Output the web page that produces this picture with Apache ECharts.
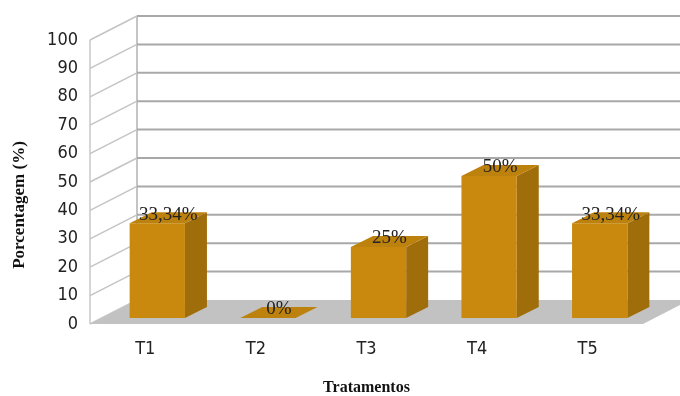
<!DOCTYPE html>
<html>
<head>
<meta charset="utf-8">
<script src="https://cdn.jsdelivr.net/npm/echarts@6/dist/echarts.min.js"></script>
<style>
html, body { margin: 0; padding: 0; background: #fff; }
#grafico { width: 680px; height: 396px; }
</style>
</head>
<body>
<div id="grafico"></div>
<script>
// dados
const tratamentos = ['T1', 'T2', 'T3', 'T4', 'T5']
const porcentagens = [33.34, 0, 25, 50, 33.34]
const rotulos = ['33,34%', '0%', '25%', '50%', '33,34%']
const marcasY = [0, 10, 20, 30, 40, 50, 60, 70, 80, 90, 100]

// efeito 3D (deslocamentos em px)
const parede = { dx: 47, dy: -24 }   // parede do fundo
const frente = { dx: 12, dy: -6 }    // face da frente da barra
const prof = { dx: 22, dy: -11 }     // profundidade da barra

const corFrente = '#c9890e'
const corLado = '#a06d0b'
const corTopo = '#bd810d'
const fonteEstreita = '"DejaVu Sans Condensed", "Liberation Sans Narrow", "Arial Narrow", sans-serif'
const fonteSerif = '"Liberation Serif", "Times New Roman", serif'

const chart = echarts.init(document.getElementById('grafico'))

function desenhaMoldura(params, api) {
  const v = api.value(1)
  const cs = params.coordSys
  const y = api.coord([0, v])[1]
  const xe = cs.x
  const xd = cs.x + cs.width
  const W = parede.dx, H = parede.dy
  const filhos = []
  if (v === 0) {
    // piso
    filhos.push({
      type: 'polygon',
      shape: { points: [[xe, y], [xe + W, y + H], [xd + W, y + H], [xd, y]] },
      style: { fill: '#c2c2c2' }
    })
    // aresta da frente da parede lateral
    filhos.push({
      type: 'line',
      shape: { x1: xe, y1: cs.y, x2: xe, y2: y },
      style: { stroke: '#c8c8c8', lineWidth: 1.5 }
    })
    // aresta do fundo
    filhos.push({
      type: 'line',
      shape: { x1: xe + W, y1: cs.y + H, x2: xe + W, y2: y + H },
      style: { stroke: '#b0b0b0', lineWidth: 1.5 }
    })
  }
  filhos.push({
    type: 'line',
    shape: { x1: xe, y1: y, x2: xe + W, y2: y + H },
    style: { stroke: '#c4c4c4', lineWidth: 1.5 }
  })
  if (v > 0) {
    filhos.push({
      type: 'line',
      shape: { x1: xe + W, y1: y + H, x2: xd + W, y2: y + H },
      style: { stroke: '#a8a8a8', lineWidth: 2 }
    })
  }
  return { type: 'group', children: filhos }
}

function desenhaBarra(params, api) {
  const i = api.value(0)
  const v = api.value(1)
  const base = api.coord([i, 0])
  const topo = api.coord([i, v])
  const banda = api.size([1, 0])[0]
  const larg = banda * 0.5
  const x0 = base[0] - larg / 2 + frente.dx
  const x1 = x0 + larg
  const yb = base[1] + frente.dy
  const yt = topo[1] + frente.dy
  const dx = prof.dx, dy = prof.dy
  return {
    type: 'group',
    children: [
      {
        type: 'polygon',
        shape: { points: [[x1, yb], [x1 + dx, yb + dy], [x1 + dx, yt + dy], [x1, yt]] },
        style: { fill: corLado }
      },
      {
        type: 'rect',
        shape: { x: x0, y: yt, width: larg, height: yb - yt },
        style: { fill: corFrente }
      },
      {
        type: 'polygon',
        shape: { points: [[x0, yt], [x0 + dx, yt + dy], [x1 + dx, yt + dy], [x1, yt]] },
        style: { fill: corTopo }
      },
      {
        type: 'text',
        x: (x0 + x1) / 2 + dx / 2,
        y: yt + dy / 2 - 3,
        style: {
          text: rotulos[params.dataIndex],
          fill: '#222',
          fontFamily: fonteSerif,
          fontSize: 19,
          align: 'center',
          verticalAlign: 'middle'
        }
      }
    ]
  }
}

const option = {
  animation: false,
  grid: { left: 90, right: 37, top: 40, bottom: 72, outerBoundsMode: 'none' },
  xAxis: {
    type: 'category',
    data: tratamentos,
    axisLine: { show: false },
    axisTick: { show: false },
    axisLabel: { margin: 16, fontSize: 18, color: '#222', fontFamily: fonteEstreita },
    name: 'Tratamentos',
    nameLocation: 'middle',
    nameGap: 56,
    nameTextStyle: { fontFamily: fonteSerif, fontWeight: 'bold', fontSize: 16, color: '#111' }
  },
  yAxis: {
    type: 'value',
    min: 0,
    max: 100,
    interval: 10,
    axisLine: { show: false },
    axisTick: { show: false },
    splitLine: { show: false },
    axisLabel: { margin: 12, fontSize: 18, color: '#222', fontFamily: fonteEstreita }
  },
  graphic: [{
    type: 'text',
    x: 20,
    y: 205,
    rotation: Math.PI / 2,
    style: {
      text: 'Porcentagem (%)',
      fill: '#111',
      fontFamily: fonteSerif,
      fontWeight: 'bold',
      fontSize: 17,
      align: 'center',
      verticalAlign: 'middle'
    }
  }],
  series: [
    {
      type: 'custom',
      z: 1,
      silent: true,
      renderItem: desenhaMoldura,
      encode: { x: 0, y: 1 },
      data: marcasY.map(v => [0, v])
    },
    {
      type: 'custom',
      z: 2,
      renderItem: desenhaBarra,
      encode: { x: 0, y: 1 },
      data: porcentagens.map((v, i) => [i, v])
    }
  ]
}

chart.setOption(option)
</script>
</body>
</html>
